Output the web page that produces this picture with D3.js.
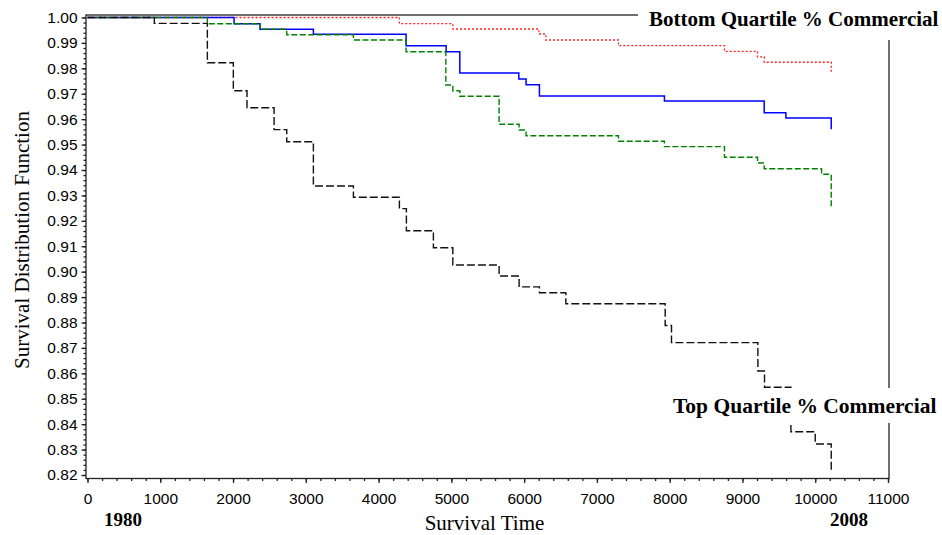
<!DOCTYPE html>
<meta charset="utf-8">
<style>
body {
  margin: 0;
  background-color: #fff;
}
.axis text {
  font: 15.5px "Liberation Sans", Arial, sans-serif;
  fill: #000;
}
.axis path,
.axis line {
  fill: none;
  stroke: #222;
  stroke-width: 1.3px;
}
.frame {
  fill: none;
  stroke: #222;
  stroke-width: 1.3px;
}
.curve {
  fill: none;
}
.label-bold {
  font: bold 21px "Liberation Serif", "Times New Roman", serif;
  fill: #000;
}
.axis-title {
  font: 21px "Liberation Serif", "Times New Roman", serif;
  fill: #000;
}
</style>
<body>
<svg width="942" height="535"></svg>
<script src="https://d3js.org/d3.v7.min.js"></script>
<script>
// survival times (days since 1980) and Kaplan-Meier estimates
var redTimes   = [0, 4286, 5020, 6202, 6298, 7296, 8753, 9207, 9299, 10220];
var redSurv    = [1.0, 0.99756, 0.99548, 0.9935, 0.99115, 0.9889, 0.9867, 0.9845, 0.9824, 0.9784];

var blueTimes  = [0, 2014, 2371, 3104, 4378, 4928, 5116, 5927, 6027, 6210, 7928, 9299, 9597, 10220];
var blueSurv   = [1.0, 0.99756, 0.99536, 0.9934, 0.9889, 0.98655, 0.97817, 0.9758, 0.97356, 0.9691, 0.96715, 0.96255, 0.96047, 0.956];

var greenTimes = [0, 1647, 2371, 2738, 3654, 4378, 4924, 5020, 5116, 5656, 5931, 6027, 7296, 7928, 8753, 9207, 9299, 10087, 10220];
var greenSurv  = [1.0, 0.99756, 0.99536, 0.99323, 0.99115, 0.98655, 0.97345, 0.9712, 0.969, 0.958, 0.95575, 0.9535, 0.9513, 0.9492, 0.945, 0.94276, 0.9405, 0.9383, 0.9249];

var blackTimes = [0, 918, 1647, 2004, 2192, 2564, 2738, 3104, 3654, 4286, 4382, 4753, 5020, 5656, 5931, 6210, 6573, 7938, 8025, 9212, 9303, 9666, 10000, 10220];
var blackSurv  = [1.0, 0.9977, 0.9822, 0.9712, 0.9645, 0.9559, 0.9511, 0.9337, 0.9293, 0.9248, 0.9161, 0.9094, 0.9026, 0.8983, 0.8940, 0.8917, 0.8874, 0.8788, 0.8721, 0.8609, 0.8545, 0.8370, 0.8322, 0.8213];

var xTicks = d3.range(0, 11001, 1000);
var yTicks = d3.range(82, 101).map(function(d) { return d / 100; });

var svg = d3.select("svg");

// plot box edges (window.top is reserved, so the names are prefixed)
var boxLeft = 86, boxRight = 889, boxTop = 15, boxBottom = 478.5;

var x = d3.scaleLinear().domain([0, 11000]).range([87.5, 888]);
var y = d3.scaleLinear().domain([0.82, 1.00]).range([475, 17.5]);

// frame
svg.append("rect")
    .attr("class", "frame")
    .attr("x", boxLeft)
    .attr("y", boxTop)
    .attr("width", boxRight - boxLeft)
    .attr("height", boxBottom - boxTop);

// x axis, major + minor ticks
svg.append("g")
    .attr("class", "axis")
    .attr("transform", "translate(0," + boxBottom + ")")
    .call(d3.axisBottom(x).tickValues(d3.range(0, 11001, 200)).tickSize(2.5).tickFormat(""))
    .call(function(g) { g.select(".domain").remove(); });

var xAxis = svg.append("g")
    .attr("class", "axis")
    .attr("transform", "translate(0," + boxBottom + ")")
    .call(d3.axisBottom(x).tickValues(xTicks).tickSize(4.5).tickFormat(d3.format("d")));
xAxis.select(".domain").remove();
xAxis.selectAll("text").attr("y", 14.5);

// y axis, major + minor ticks
svg.append("g")
    .attr("class", "axis")
    .attr("transform", "translate(" + boxLeft + ",0)")
    .call(d3.axisLeft(y).tickValues(d3.range(820, 1001, 2).map(function(d) { return d / 1000; })).tickSize(2.5).tickFormat(""))
    .call(function(g) { g.select(".domain").remove(); });

svg.append("g")
    .attr("class", "axis")
    .attr("transform", "translate(" + boxLeft + ",0)")
    .call(d3.axisLeft(y).tickValues(yTicks).tickSize(4.5).tickPadding(4).tickFormat(d3.format(".2f")))
    .call(function(g) { g.select(".domain").remove(); });

// survival curves
var line = d3.line()
    .x(function(d) { return x(d[0]); })
    .y(function(d) { return y(d[1]); })
    .curve(d3.curveStepAfter);

var series = [
  {t: redTimes,   s: redSurv,   color: "#ff2020", dash: "2,2", w: 1.3},
  {t: blueTimes,  s: blueSurv,  color: "#0000ff", dash: null,  w: 1.5},
  {t: greenTimes, s: greenSurv, color: "#008000", dash: "6,2.5", w: 1.4},
  {t: blackTimes, s: blackSurv, color: "#111", dash: "8,3", w: 1.4}
];

series.forEach(function(sr) {
  svg.append("path")
      .datum(d3.zip(sr.t, sr.s))
      .attr("class", "curve")
      .attr("stroke", sr.color)
      .attr("stroke-width", sr.w)
      .attr("stroke-dasharray", sr.dash)
      .attr("d", line);
});

// group labels sit on white boxes that cut the frame and curves
svg.append("rect").attr("x", 638).attr("y", 0).attr("width", 304).attr("height", 40).attr("fill", "#fff");
svg.append("text")
    .attr("class", "label-bold")
    .attr("x", 649)
    .attr("y", 26)
    .text("Bottom Quartile % Commercial");

svg.append("rect").attr("x", 662).attr("y", 388).attr("width", 280).attr("height", 35).attr("fill", "#fff");
svg.append("text")
    .attr("class", "label-bold")
    .style("font-size", "21.5px")
    .attr("x", 673)
    .attr("y", 413)
    .text("Top Quartile % Commercial");

// titles
svg.append("text")
    .attr("class", "axis-title")
    .attr("text-anchor", "middle")
    .attr("transform", "translate(29,240) rotate(-90)")
    .text("Survival Distribution Function");

svg.append("text")
    .attr("class", "axis-title")
    .attr("text-anchor", "middle")
    .attr("x", 484.5)
    .attr("y", 530)
    .text("Survival Time");

svg.append("text")
    .attr("class", "label-bold")
    .style("font-size", "19px")
    .attr("text-anchor", "middle")
    .attr("x", 123)
    .attr("y", 526)
    .text("1980");

svg.append("text")
    .attr("class", "label-bold")
    .style("font-size", "19px")
    .attr("text-anchor", "middle")
    .attr("x", 849)
    .attr("y", 526)
    .text("2008");
</script>
